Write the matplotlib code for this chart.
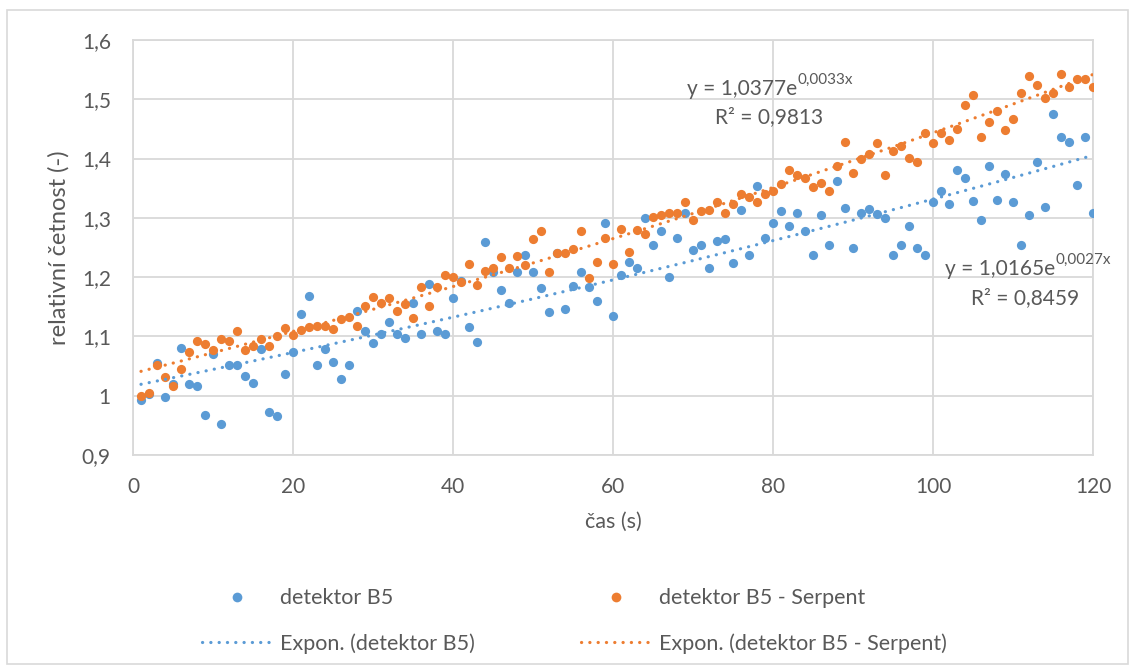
import matplotlib
matplotlib.use('Agg')

font = {'family': ['Lato', 'DejaVu Sans'],
        'size': 15}
matplotlib.rc('font', **font)

import matplotlib.pyplot as plt
from matplotlib.lines import Line2D
from matplotlib.patches import Rectangle
import numpy as np

# time axis (s)
cas = list(range(1, 121))

# measured relative counts, detektor B5
detektor_b5 = [
    0.993, 1.003, 1.056, 0.998, 1.019, 1.081, 1.019, 1.017, 0.967, 1.070,
    0.953, 1.051, 1.052, 1.034, 1.021, 1.079, 0.973, 0.965, 1.036, 1.074,
    1.137, 1.168, 1.052, 1.079, 1.057, 1.028, 1.052, 1.143, 1.110, 1.089,
    1.104, 1.124, 1.104, 1.098, 1.157, 1.104, 1.188, 1.110, 1.104, 1.164,
    1.193, 1.116, 1.091, 1.259, 1.209, 1.178, 1.157, 1.209, 1.237, 1.209,
    1.182, 1.142, 1.240, 1.146, 1.185, 1.208, 1.184, 1.160, 1.291, 1.135,
    1.204, 1.226, 1.215, 1.300, 1.254, 1.277, 1.200, 1.266, 1.308, 1.246,
    1.255, 1.216, 1.261, 1.264, 1.224, 1.314, 1.237, 1.354, 1.266, 1.291,
    1.312, 1.287, 1.309, 1.278, 1.237, 1.305, 1.254, 1.362, 1.317, 1.250,
    1.309, 1.315, 1.306, 1.299, 1.237, 1.254, 1.287, 1.250, 1.237, 1.327,
    1.345, 1.323, 1.381, 1.368, 1.328, 1.297, 1.387, 1.330, 1.374, 1.326,
    1.255, 1.304, 1.395, 1.318, 1.475, 1.437, 1.428, 1.355, 1.437, 1.308,
]

# simulated relative counts, detektor B5 - Serpent
detektor_b5_serpent = [
    1.000, 1.004, 1.051, 1.031, 1.016, 1.045, 1.073, 1.093, 1.088, 1.077,
    1.095, 1.092, 1.110, 1.077, 1.084, 1.095, 1.084, 1.100, 1.115, 1.102,
    1.111, 1.116, 1.118, 1.118, 1.112, 1.129, 1.133, 1.118, 1.151, 1.166,
    1.157, 1.164, 1.143, 1.154, 1.131, 1.183, 1.152, 1.184, 1.204, 1.201,
    1.192, 1.222, 1.186, 1.211, 1.215, 1.234, 1.215, 1.235, 1.220, 1.264,
    1.278, 1.208, 1.240, 1.240, 1.248, 1.277, 1.199, 1.226, 1.266, 1.223,
    1.282, 1.242, 1.279, 1.273, 1.301, 1.305, 1.309, 1.309, 1.326, 1.296,
    1.311, 1.313, 1.327, 1.309, 1.324, 1.340, 1.336, 1.327, 1.340, 1.346,
    1.357, 1.381, 1.372, 1.368, 1.352, 1.359, 1.345, 1.387, 1.428, 1.376,
    1.399, 1.407, 1.426, 1.373, 1.413, 1.421, 1.401, 1.395, 1.443, 1.427,
    1.443, 1.432, 1.450, 1.491, 1.507, 1.437, 1.461, 1.481, 1.448, 1.467,
    1.510, 1.540, 1.524, 1.502, 1.510, 1.542, 1.520, 1.534, 1.535, 1.521,
]

# exponential trendlines y = a * exp(b * x), with R^2
fit_b5 = (1.0165, 0.0027, 0.8459)
fit_serpent = (1.0377, 0.0033, 0.9813)

y_ticks = [0.9, 1.0, 1.1, 1.2, 1.3, 1.4, 1.5, 1.6]
y_tick_labels = ['0,9', '1', '1,1', '1,2', '1,3', '1,4', '1,5', '1,6']
x_ticks = [0, 20, 40, 60, 80, 100, 120]

BLUE = '#5B9BD5'
ORANGE = '#ED7D31'
GRID = '#D9D9D9'
TEXT = '#595959'


def fmt(v, digits):
    return ('%.*f' % (digits, v)).replace('.', ',')


def equation(ax, x_end, y, fit):
    # base text ends at x_end, exponent hangs off its right edge
    a, b, r2 = fit
    base = ax.text(x_end, y, 'y = ' + fmt(a, 4) + 'e', color=TEXT, fontsize=15,
                   ha='right', va='baseline', zorder=6)
    ax.annotate(fmt(b, 4) + 'x', xy=(1.0, 0.6), xycoords=base,
                color=TEXT, fontsize=11, ha='left', va='bottom', zorder=6)
    return base


def main():
    fig = plt.figure(figsize=(11.36, 6.68), dpi=100)
    ax = fig.add_axes([133 / 1136, 1 - 455 / 668, 960 / 1136, 415 / 668])

    # outer chart frame
    fig.patches.append(Rectangle((7 / 1136, 4 / 668), 1121 / 1136, 654 / 668,
                                 transform=fig.transFigure, fill=False,
                                 edgecolor=GRID, linewidth=1.2))

    x = np.array(cas)
    ax.scatter(x, detektor_b5, s=44, color=BLUE, linewidths=0, zorder=3)
    ax.scatter(x, detektor_b5_serpent, s=44, color=ORANGE, linewidths=0, zorder=4)

    xt = np.linspace(1, 120, 200)
    dots = (0, (0.05, 2.55))
    for fit, col in [(fit_b5, BLUE), (fit_serpent, ORANGE)]:
        a, b, _ = fit
        ax.plot(xt, a * np.exp(b * xt), color=col, linewidth=2.3,
                linestyle=dots, dash_capstyle='round', zorder=5)

    ax.set_xlim(0, 120)
    ax.set_ylim(0.9, 1.6)
    ax.set_xticks(x_ticks)
    ax.set_yticks(y_ticks)
    ax.set_yticklabels(y_tick_labels)
    ax.grid(True, color=GRID, linewidth=1.3, zorder=0)
    ax.set_axisbelow(True)
    for sp in ax.spines.values():
        sp.set_color(GRID)
        sp.set_linewidth(1.3)
    ax.tick_params(length=0, colors=TEXT, labelsize=15)
    ax.tick_params(axis='y', pad=16)
    ax.tick_params(axis='x', pad=16)

    ax.set_xlabel('čas (s)', color=TEXT, fontsize=15.5)
    ax.set_ylabel('relativní četnost (-)', color=TEXT, fontsize=17)
    ax.xaxis.set_label_coords(0.5, -0.137)
    ax.yaxis.set_label_coords(-0.066, 0.5)

    # trendline equations
    equation(ax, 83.0, 1.507, fit_serpent)
    ax.text(79.5, 1.460, 'R² = ' + fmt(fit_serpent[2], 4), color=TEXT,
            fontsize=15, ha='center', va='baseline', zorder=6)
    equation(ax, 115.25, 1.2035, fit_b5)
    ax.text(111.5, 1.155, 'R² = ' + fmt(fit_b5[2], 4), color=TEXT,
            fontsize=15, ha='center', va='baseline', zorder=6)

    handles = [
        Line2D([], [], linestyle='none', marker='o', markersize=7,
               markerfacecolor=BLUE, markeredgewidth=0),
        Line2D([], [], color=BLUE, linewidth=2.3, linestyle=dots,
               dash_capstyle='round'),
        Line2D([], [], linestyle='none', marker='o', markersize=7,
               markerfacecolor=ORANGE, markeredgewidth=0),
        Line2D([], [], color=ORANGE, linewidth=2.3, linestyle=dots,
               dash_capstyle='round'),
    ]
    labels = ['detektor B5', 'Expon. (detektor B5)',
              'detektor B5 - Serpent', 'Expon. (detektor B5 - Serpent)']
    leg = fig.legend(handles, labels, ncol=2, loc='center left',
                     bbox_to_anchor=(202 / 1136, 1 - 621 / 668),
                     frameon=False, fontsize=15.5, handlelength=3.25,
                     handletextpad=0.37, columnspacing=4.95, labelspacing=1.17,
                     borderaxespad=0, borderpad=0)
    for t in leg.get_texts():
        t.set_color(TEXT)

    fig.savefig('out.png', dpi=100)


if __name__ == '__main__':
    main()
